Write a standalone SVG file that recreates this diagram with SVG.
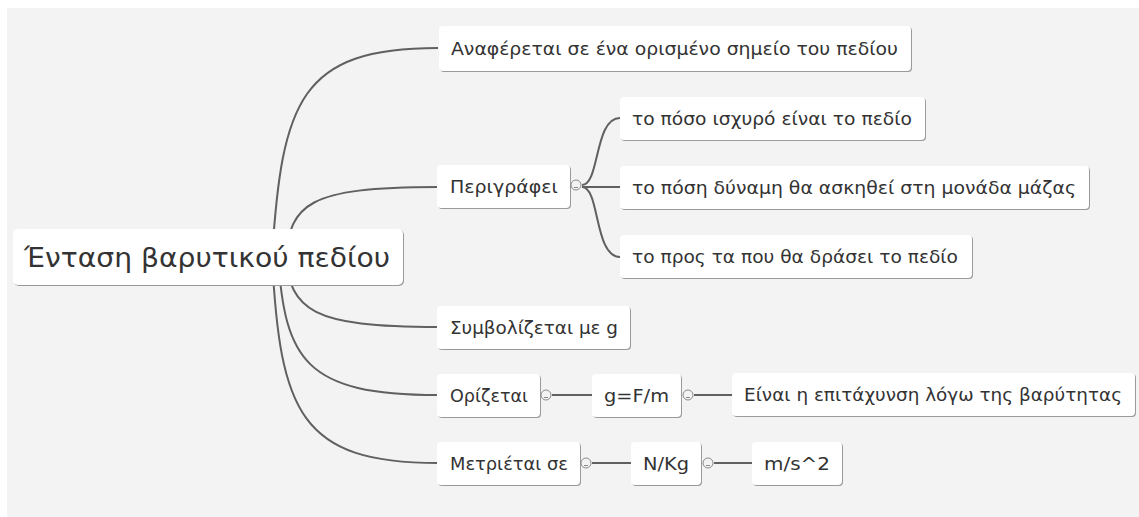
<svg xmlns="http://www.w3.org/2000/svg" width="1139" height="517" viewBox="0 0 1139 517">
<style>
.bg{fill:#f3f3f3}
.sh{fill:#9a9a9a}
.bx{fill:#ffffff}
.t{font-family:"DejaVu Sans","Noto Sans",sans-serif;fill:#333333;dominant-baseline:central}
.n{font-size:17px}
.r{font-size:27px}
.c{fill:none;stroke:#606060;stroke-width:2}
.k{fill:#f3f3f3;stroke:#8a8a8a;stroke-width:1}
.km{stroke:#8a8a8a;stroke-width:1}
</style>
<rect class="bg" x="7" y="8" width="1132" height="509"/>
<g id="connectors">
<path class="c" d="M272 257 C282 101 300 48 438 48"/>
<path class="c" d="M285 257 C292 205 305 187 438 187"/>
<path class="c" d="M285 257 C292 310 310 327 438 327"/>
<path class="c" d="M278 257 C285 360 305 395 438 395"/>
<path class="c" d="M272 257 C280 412 300 463 438 463"/>
<path class="c" d="M582 185 C600 185 594 118 620 118"/>
<path class="c" d="M582 187 L620 187"/>
<path class="c" d="M582 187 C600 187 594 257 620 257"/>
<path class="c" d="M552 395 L592 395"/>
<path class="c" d="M694 395 L732 395"/>
<path class="c" d="M592 463 L631 463"/>
<path class="c" d="M714 463 L752 463"/>
</g>
<g id="root">
<rect class="sh" x="14" y="230" width="390" height="56" rx="5"/>
<rect class="bx" x="13" y="229" width="390" height="56" rx="5"/>
<text class="t r" x="24" y="257" textLength="366" lengthAdjust="spacingAndGlyphs">Ένταση βαρυτικού πεδίου</text>
</g>
<g id="n-anaferetai">
<rect class="sh" x="440" y="27" width="472" height="45" rx="4"/>
<rect class="bx" x="439" y="26" width="472" height="45" rx="4"/>
<text class="t n" x="451" y="48.5" textLength="447" lengthAdjust="spacingAndGlyphs">Αναφέρεται σε ένα ορισμένο σημείο του πεδίου</text>
</g>
<g id="n-perigrafei">
<rect class="sh" x="438" y="166" width="133" height="43" rx="4"/>
<rect class="bx" x="437" y="165" width="133" height="43" rx="4"/>
<text class="t n" x="450" y="186.5" textLength="108" lengthAdjust="spacingAndGlyphs">Περιγράφει</text>
<circle class="k" cx="576" cy="185" r="5"/>
<line class="km" x1="574" y1="187.5" x2="578" y2="187.5"/>
</g>
<g id="n-isxyro">
<rect class="sh" x="621" y="98" width="305" height="43" rx="4"/>
<rect class="bx" x="620" y="97" width="305" height="43" rx="4"/>
<text class="t n" x="632" y="118.5" textLength="280" lengthAdjust="spacingAndGlyphs">το πόσο ισχυρό είναι το πεδίο</text>
</g>
<g id="n-dynami">
<rect class="sh" x="621" y="167" width="469" height="43" rx="4"/>
<rect class="bx" x="620" y="166" width="469" height="43" rx="4"/>
<text class="t n" x="632" y="187.5" textLength="444" lengthAdjust="spacingAndGlyphs">το πόση δύναμη θα ασκηθεί στη μονάδα μάζας</text>
</g>
<g id="n-pros">
<rect class="sh" x="621" y="236" width="352" height="43" rx="4"/>
<rect class="bx" x="620" y="235" width="352" height="43" rx="4"/>
<text class="t n" x="632" y="256.5" textLength="326" lengthAdjust="spacingAndGlyphs">το προς τα που θα δράσει το πεδίο</text>
</g>
<g id="n-symbolizetai">
<rect class="sh" x="438" y="307" width="193" height="43" rx="4"/>
<rect class="bx" x="437" y="306" width="193" height="43" rx="4"/>
<text class="t n" x="450" y="327.5" textLength="168" lengthAdjust="spacingAndGlyphs">Συμβολίζεται με g</text>
</g>
<g id="n-orizetai">
<rect class="sh" x="438" y="375" width="103" height="43" rx="4"/>
<rect class="bx" x="437" y="374" width="103" height="43" rx="4"/>
<text class="t n" x="450" y="395.5" textLength="78" lengthAdjust="spacingAndGlyphs">Ορίζεται</text>
<circle class="k" cx="546" cy="395" r="5"/>
<line class="km" x1="544" y1="397.5" x2="548" y2="397.5"/>
</g>
<g id="n-gfm">
<rect class="sh" x="593" y="375" width="89" height="43" rx="4"/>
<rect class="bx" x="592" y="374" width="89" height="43" rx="4"/>
<text class="t n" x="604" y="395.5" textLength="65" lengthAdjust="spacingAndGlyphs">g=F/m</text>
<circle class="k" cx="688" cy="395" r="5"/>
<line class="km" x1="686" y1="397.5" x2="690" y2="397.5"/>
</g>
<g id="n-epitaxynsi">
<rect class="sh" x="733" y="374" width="403" height="43" rx="4"/>
<rect class="bx" x="732" y="373" width="403" height="43" rx="4"/>
<text class="t n" x="744" y="394.5" textLength="378" lengthAdjust="spacingAndGlyphs">Είναι η επιτάχυνση λόγω της βαρύτητας</text>
</g>
<g id="n-metrietai">
<rect class="sh" x="438" y="443" width="143" height="43" rx="4"/>
<rect class="bx" x="437" y="442" width="143" height="43" rx="4"/>
<text class="t n" x="450" y="463.5" textLength="118" lengthAdjust="spacingAndGlyphs">Μετριέται σε</text>
<circle class="k" cx="586" cy="463" r="5"/>
<line class="km" x1="584" y1="465.5" x2="588" y2="465.5"/>
</g>
<g id="n-nkg">
<rect class="sh" x="632" y="443" width="70" height="43" rx="4"/>
<rect class="bx" x="631" y="442" width="70" height="43" rx="4"/>
<text class="t n" x="643" y="463.5" textLength="46" lengthAdjust="spacingAndGlyphs">N/Kg</text>
<circle class="k" cx="708" cy="463" r="5"/>
<line class="km" x1="706" y1="465.5" x2="710" y2="465.5"/>
</g>
<g id="n-ms2">
<rect class="sh" x="753" y="443" width="90" height="43" rx="4"/>
<rect class="bx" x="752" y="442" width="90" height="43" rx="4"/>
<text class="t n" x="764" y="463.5" textLength="66" lengthAdjust="spacingAndGlyphs">m/s^2</text>
</g>
</svg>
